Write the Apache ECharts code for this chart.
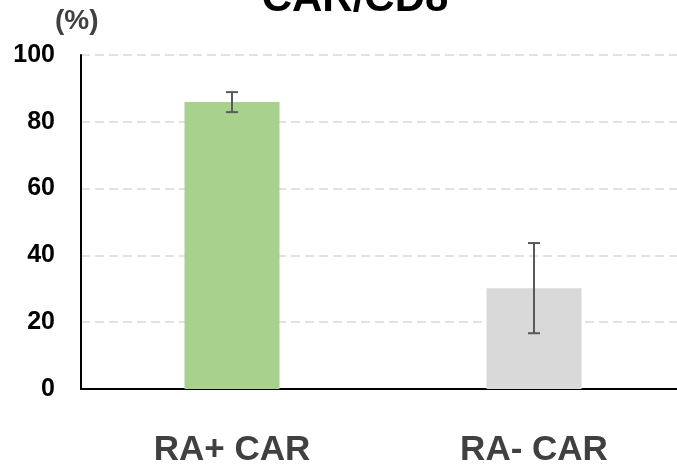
<!DOCTYPE html>
<html>
<head>
<meta charset="utf-8">
<script src="https://cdn.jsdelivr.net/npm/echarts@6/dist/echarts.min.js"></script>
<style>
  html, body { margin: 0; padding: 0; background: #fff; overflow: hidden; }
  #chart { width: 685px; height: 468px; }
</style>
</head>
<body>
<div id="chart"></div>
<script>
// Groups, mean percentages and their error (± SD)
const categories = ['RA+ CAR', 'RA- CAR'];
const means = [85.9, 30.2];
const errors = [3.0, 13.5];
const barColors = ['#a9d18e', '#d9d9d9'];
const yTicks = [0, 20, 40, 60, 80, 100];

const FONT = 'Arial, "Liberation Sans", sans-serif';

const chart = echarts.init(document.getElementById('chart'));

// Whisker data: [category index, low, high]
const whiskers = means.map((m, i) => [i, m - errors[i], m + errors[i]]);

chart.setOption({
  animation: false,
  title: {
    text: 'CAR/CD8',
    left: 350,
    top: -27,
    textAlign: 'center',
    textStyle: { fontFamily: FONT, fontWeight: 'bold', fontSize: 42, color: '#000' }
  },
  graphic: [{
    type: 'text',
    left: 55,
    top: 7,
    style: { text: '(%)', fontFamily: FONT, fontWeight: 'bold', fontSize: 28, fill: '#404040' }
  }],
  // plot area runs slightly past the right edge of the visible page
  grid: { left: 81, right: 0, top: 55, bottom: 75, containLabel: false },
  xAxis: {
    type: 'category',
    data: categories,
    axisLine: { lineStyle: { color: '#000', width: 2 } },
    axisTick: { show: false },
    axisLabel: {
      margin: 44,
      fontFamily: FONT, fontWeight: 'bold', fontSize: 35, color: '#404040'
    }
  },
  yAxis: {
    type: 'value',
    min: yTicks[0],
    max: yTicks[yTicks.length - 1],
    interval: 20,
    axisLine: { show: true, lineStyle: { color: '#000', width: 2 } },
    axisTick: { show: false },
    axisLabel: {
      margin: 26,
      fontFamily: FONT, fontWeight: 'bold', fontSize: 25, color: '#000'
    },
    splitLine: {
      show: true,
      lineStyle: { color: '#d9d9d9', width: 1.5, type: [9, 5] }
    }
  },
  series: [
    {
      type: 'bar',
      barWidth: 95,
      data: means.map((v, i) => ({ value: v, itemStyle: { color: barColors[i] } })),
      z: 2
    },
    {
      type: 'custom',
      data: whiskers,
      z: 5,
      renderItem: function (params, api) {
        const x = api.value(0);
        const lo = api.coord([x, api.value(1)]);
        const hi = api.coord([x, api.value(2)]);
        const half = 6;
        const style = { stroke: '#595959', lineWidth: 2 };
        return {
          type: 'group',
          children: [
            { type: 'line', shape: { x1: lo[0], y1: lo[1], x2: hi[0], y2: hi[1] }, style },
            { type: 'line', shape: { x1: hi[0] - half, y1: hi[1], x2: hi[0] + half, y2: hi[1] }, style },
            { type: 'line', shape: { x1: lo[0] - half, y1: lo[1], x2: lo[0] + half, y2: lo[1] }, style }
          ]
        };
      }
    }
  ]
});
</script>
</body>
</html>
